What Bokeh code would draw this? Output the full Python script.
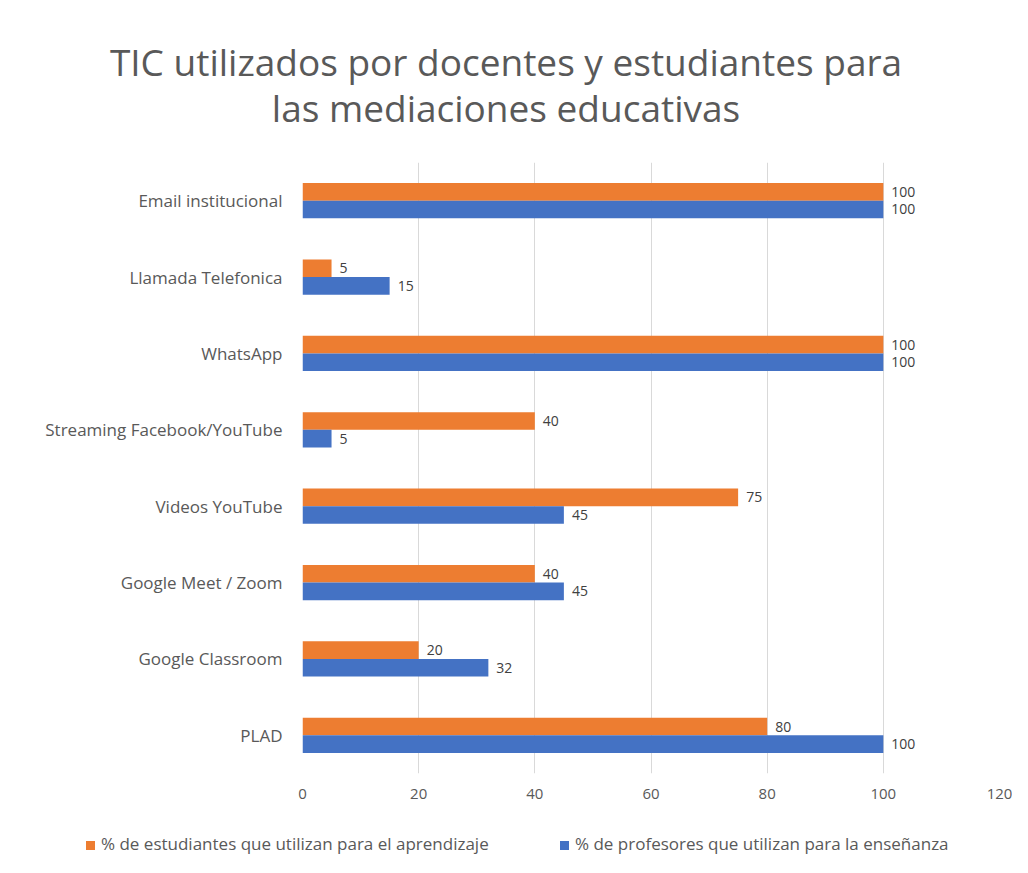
from bokeh.plotting import figure
from bokeh.models import FactorRange, Range1d, ColumnDataSource, LabelSet, FixedTicker, Div
from bokeh.core.properties import value
from bokeh.transform import dodge
from bokeh.layouts import column
from bokeh.embed import file_html
from bokeh.resources import INLINE

categories = ["Email institucional", "Llamada Telefonica", "WhatsApp",
              "Streaming Facebook/YouTube", "Videos YouTube", "Google Meet / Zoom",
              "Google Classroom", "PLAD"]
estudiantes = [100, 5, 100, 40, 75, 40, 20, 80]
profesores = [100, 15, 100, 5, 45, 45, 32, 100]
x_ticks = [0, 20, 40, 60, 80, 100, 120]
series_names = ["% de estudiantes que utilizan para el aprendizaje",
                "% de profesores que utilizan para la enseñanza"]
title_lines = ["TIC utilizados por docentes y estudiantes para",
               "las mediaciones educativas"]

ORANGE = "#ED7D31"
BLUE = "#4472C4"
TXT = "#595959"
FONT = "Open Sans"
W = 1012

# ---- title block (HTML text) ----
title_html = (
    f'<div style="width:{W - 68}px;padding-left:68px;padding-top:39px;text-align:center;'
    f'font-family:\'{FONT}\';font-size:37px;line-height:46px;color:{TXT};white-space:nowrap;">'
    + "<br>".join(title_lines) + "</div>"
)
tdiv = Div(text=title_html, width=W, height=150, margin=0)

# ---- main chart ----
source = ColumnDataSource(dict(cat=categories, est=estudiantes, prof=profesores,
                               est_lbl=[str(v) for v in estudiantes],
                               prof_lbl=[str(v) for v in profesores]))

p = figure(y_range=FactorRange(factors=categories[::-1]), x_range=Range1d(0, 120),
           frame_width=697, frame_height=611,
           min_border_left=302, min_border_right=W - 302 - 697, min_border_top=12,
           min_border_bottom=45, output_backend="svg", toolbar_location=None)

p.hbar(y=dodge("cat", 0.115, range=p.y_range), right="est", left=0, height=0.23,
       fill_color=ORANGE, line_color=None, source=source)
p.hbar(y=dodge("cat", -0.115, range=p.y_range), right="prof", left=0, height=0.23,
       fill_color=BLUE, line_color=None, source=source)

for col, off in (("est", 0.115), ("prof", -0.115)):
    p.add_layout(LabelSet(x=col, y=dodge("cat", off, range=p.y_range), text=col + "_lbl",
                          x_offset=8, text_baseline="middle", text_align="left",
                          text_font=value(FONT), text_font_size="14px", text_color="#404040",
                          source=source))

p.xaxis.ticker = FixedTicker(ticks=x_ticks)
p.xaxis.axis_line_color = None
p.xaxis.major_tick_line_color = None
p.xaxis.major_tick_out = 0
p.xaxis.minor_tick_line_color = None
p.xaxis.major_label_text_font = FONT
p.xaxis.major_label_text_font_size = "15px"
p.xaxis.major_label_text_color = TXT
p.xaxis.major_label_standoff = 15

p.yaxis.axis_line_color = None
p.yaxis.major_tick_line_color = None
p.yaxis.major_tick_out = 0
p.yaxis.minor_tick_line_color = None
p.yaxis.major_label_text_font = FONT
p.yaxis.major_label_text_font_size = "17px"
p.yaxis.major_label_text_color = TXT
p.yaxis.major_label_standoff = 20

p.xgrid.grid_line_color = "#d9d9d9"
p.ygrid.grid_line_color = None
p.outline_line_color = None

# ---- legend block (HTML) ----
def legend_item(left, color, label):
    return (f'<div style="position:absolute;left:{left}px;top:14px;white-space:nowrap;'
            f'font-family:\'{FONT}\';font-size:17px;line-height:24px;color:{TXT};">'
            f'<span style="display:inline-block;width:9px;height:9px;background:{color};'
            f'margin-right:6px;vertical-align:middle;"></span>{label}</div>')

legend_html = (f'<div style="position:relative;width:{W}px;height:50px;">'
               + legend_item(86, ORANGE, series_names[0])
               + legend_item(560, BLUE, series_names[1]) + "</div>")
ldiv = Div(text=legend_html, width=W, height=50, margin=0)

layout = column(tdiv, p, ldiv, spacing=0)
open("out.html", "w").write(file_html(layout, INLINE))
